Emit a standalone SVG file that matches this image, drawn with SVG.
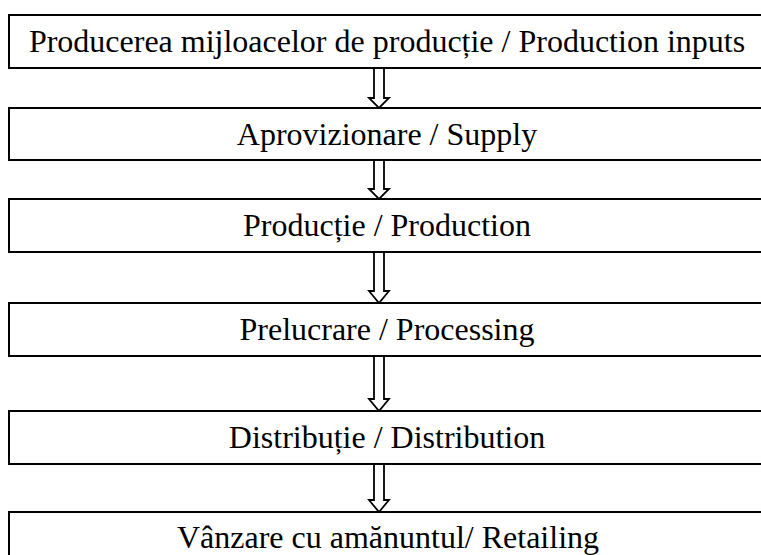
<svg xmlns="http://www.w3.org/2000/svg" width="761" height="555" viewBox="0 0 761 555">
<style>
.box{fill:#fff;stroke:#000;stroke-width:2}
.lbl{font-family:"Liberation Serif","Times New Roman",serif;font-size:32px;fill:#000;text-anchor:middle}
.arr{fill:#fff;stroke:#000;stroke-width:1.8;stroke-linejoin:miter}
</style>
<rect width="761" height="555" fill="#fff"/>
<g id="connectors">
<path class="arr" d="M374,68 L384,68 L384,98 L389,98 L379,108 L369,98 L374,98 Z"/>
<path class="arr" d="M374,160 L384,160 L384,189 L389,189 L379,199 L369,189 L374,189 Z"/>
<path class="arr" d="M374,252 L384,252 L384,291 L389,291 L379,303 L369,291 L374,291 Z"/>
<path class="arr" d="M374,356 L384,356 L384,399 L389,399 L379,411 L369,399 L374,399 Z"/>
<path class="arr" d="M374,464 L384,464 L384,500 L389,500 L379,512 L369,500 L374,500 Z"/>
</g>
<g id="n1"><rect class="box" x="9" y="15" width="760" height="53"/><text class="lbl" x="387" y="52">Producerea mijloacelor de producție / Production inputs</text></g>
<g id="n2"><rect class="box" x="9" y="108" width="760" height="52"/><text class="lbl" x="387" y="145">Aprovizionare / Supply</text></g>
<g id="n3"><rect class="box" x="9" y="199" width="760" height="53"/><text class="lbl" x="387" y="236">Producție / Production</text></g>
<g id="n4"><rect class="box" x="9" y="303" width="760" height="53"/><text class="lbl" x="387" y="340">Prelucrare / Processing</text></g>
<g id="n5"><rect class="box" x="9" y="411" width="760" height="53"/><text class="lbl" x="387" y="448">Distribuție / Distribution</text></g>
<g id="n6"><rect class="box" x="9" y="512" width="760" height="60"/><text class="lbl" x="388" y="548">Vânzare cu amănuntul/ Retailing</text></g>
</svg>
